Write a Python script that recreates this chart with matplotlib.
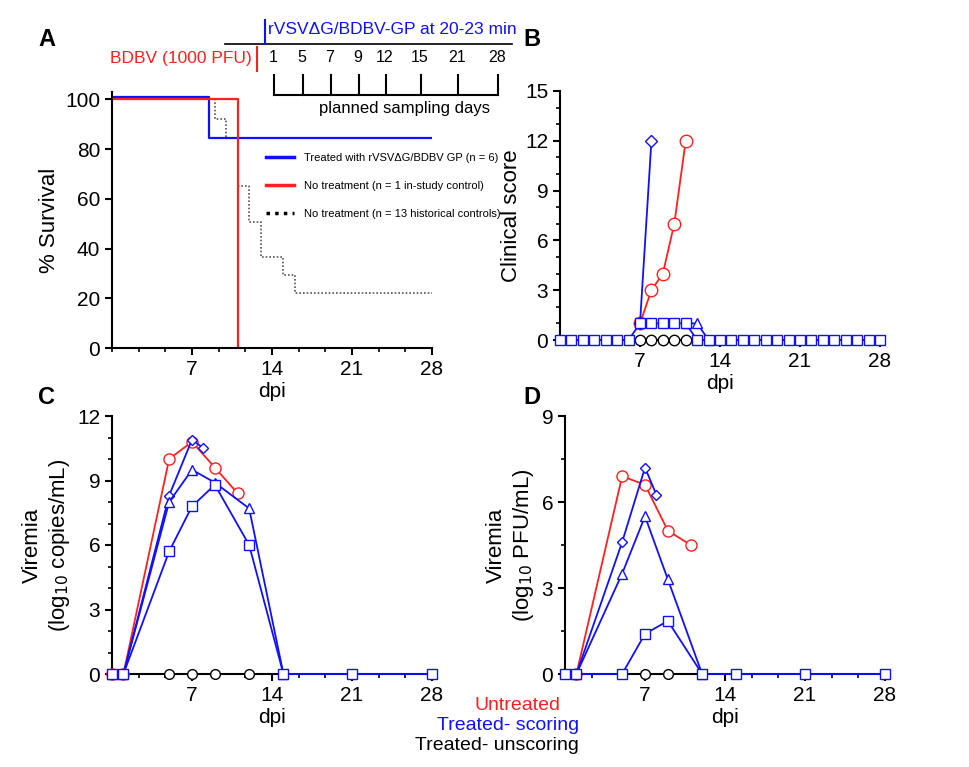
import matplotlib.pyplot as plt
import numpy as np

plt.rcParams["font.family"] = ["Liberation Sans", "DejaVu Sans"]

W, H = 969, 767
RED, BLUE = "#ff2020", "#1010ff"

# ---- panel A: survival
blue_t = [0, 8.5, 28]
blue_s = [101, 84.5, 84.5]
red_t = [0, 11, 11]
red_s = [100, 100, 0]
hist_t = [0, 9, 10, 11, 12, 13, 15, 16, 28]
hist_s = [100, 92.3, 84.6, 65, 50.7, 36.5, 29.3, 22.3, 22.3]
sampling_days = [1, 5, 7, 9, 12, 15, 21, 28]

# ---- panel B: clinical score
b_days = list(range(0, 29))
b_square = [0] * 7 + [1, 1, 1, 1, 1] + [0] * 17
b_tri_d = [11, 12, 13]
b_tri = [1, 1, 0]
b_dia_d = [7, 8]
b_dia = [1, 12]
b_red_d = [7, 8, 9, 10, 11]
b_red = [1, 3, 4, 7, 12]
b_blk_d = [7, 8, 9, 10, 11]
b_blk = [0, 0, 0, 0, 0]

# ---- panel C: viremia copies
c_red_d = [0, 1, 5, 7, 9, 11]
c_red = [0, 0, 10.0, 10.8, 9.6, 8.4]
c_dia_d = [0, 1, 5, 7, 8]
c_dia = [0, 0, 8.3, 10.9, 10.5]
c_tri_d = [0, 1, 5, 7, 9, 12, 15]
c_tri = [0, 0, 8.0, 9.5, 8.9, 7.7, 0]
c_sq_d = [0, 1, 5, 7, 9, 12, 15, 21, 28]
c_sq = [0, 0, 5.7, 7.8, 8.8, 6.0, 0, 0, 0]
c_blk_d = [5, 7, 9, 12]
c_blk = [0, 0, 0, 0]

# ---- panel D: viremia PFU
d_red_d = [1, 5, 7, 9, 11]
d_red = [0, 6.9, 6.6, 5.0, 4.5]
d_dia_d = [1, 5, 7, 8]
d_dia = [0, 4.6, 7.2, 6.25]
d_tri_d = [1, 5, 7, 9, 12]
d_tri = [0, 3.5, 5.5, 3.3, 0]
d_sq_d = [0, 1, 5, 7, 9, 12, 15, 21, 28]
d_sq = [0, 0, 0, 1.4, 1.85, 0, 0, 0, 0]
d_blk_d = [7, 9]
d_blk = [0, 0]

fig = plt.figure(figsize=(W / 100, H / 100), dpi=100)


def make_ax(x0, x1, ytop, ybot):
    ax = fig.add_axes([x0 / W, (H - ybot) / H, (x1 - x0) / W, (ybot - ytop) / H])
    for s in ("top", "right"):
        ax.spines[s].set_visible(False)
    for s in ("left", "bottom"):
        ax.spines[s].set_linewidth(1.5)
    ax.set_xlim(0, 28)
    ax.set_xticks([7, 14, 21, 28])
    ax.set_xticks(np.arange(0, 28.01, 7 / 3), minor=True)
    ax.tick_params(labelsize=15, width=1.5, length=5)
    ax.tick_params(which="minor", width=1.2, length=3)
    ax.set_xlabel("dpi", fontsize=15, labelpad=2)
    return ax


def series(ax, d, v, color, marker, ms=8):
    ax.plot(d, v, color=color, marker=marker, mfc="white", mec=color, ms=ms,
            lw=1.3, clip_on=False, zorder=3)


# A
axA = make_ax(112, 432, 92, 348)
axA.set_ylim(0, 103)
axA.set_yticks([0, 20, 40, 60, 80, 100])
axA.set_ylabel("% Survival", fontsize=16)
axA.step(hist_t, hist_s, where="post", color="#555555", ls=(0, (1, 1.2)), lw=1.2)
axA.step(blue_t, blue_s, where="post", color=BLUE, lw=1.6)
axA.plot(red_t, red_s, color=RED, lw=1.6)
axA.legend(handles=[plt.Line2D([], [], color=BLUE, lw=2.5),
                    plt.Line2D([], [], color=RED, lw=2.5),
                    plt.Line2D([], [], color="black", lw=2.5, ls=(0, (1, 1.5)))],
           labels=["Treated with rVSVΔG/BDBV GP (n = 6)",
                   "No treatment (n = 1 in-study control)",
                   "No treatment (n = 13 historical controls)"],
           loc="upper left", bbox_to_anchor=(0.45, 0.8), frameon=False,
           fontsize=8, handlelength=2.5, labelspacing=1.6, handletextpad=0.9)

# B
axB = make_ax(560, 880, 91, 340)
axB.set_ylim(0, 15)
axB.set_yticks([0, 3, 6, 9, 12, 15])
axB.set_yticks(range(16), minor=True)
axB.set_ylabel("Clinical score", fontsize=16, labelpad=2)
series(axB, b_red_d, b_red, RED, "o", 9)
series(axB, b_dia_d, b_dia, BLUE, "D", 6)
series(axB, b_blk_d, b_blk, "black", "o", 7.5)
series(axB, b_tri_d, b_tri, BLUE, "^", 7.5)
series(axB, b_days, b_square, BLUE, "s", 7)

# C
axC = make_ax(112, 432, 416, 674)
axC.set_ylim(0, 12)
axC.set_yticks([0, 3, 6, 9, 12])
axC.set_yticks(range(13), minor=True)
axC.set_ylabel("Viremia\n(log$_{10}$ copies/mL)", fontsize=16)
series(axC, c_red_d, c_red, RED, "o")
series(axC, c_dia_d, c_dia, BLUE, "D", 5)
series(axC, c_tri_d, c_tri, BLUE, "^", 7)
series(axC, c_blk_d, c_blk, "black", "o", 7)
series(axC, c_sq_d, c_sq, BLUE, "s", 7)

# D
axD = make_ax(565, 885, 416, 674)
axD.set_ylim(0, 9)
axD.set_yticks([0, 3, 6, 9])
axD.set_yticks(np.arange(0, 9.01, 1.5), minor=True)
axD.set_ylabel("Viremia\n(log$_{10}$ PFU/mL)", fontsize=16)
series(axD, d_red_d, d_red, RED, "o")
series(axD, d_dia_d, d_dia, BLUE, "D", 5)
series(axD, d_tri_d, d_tri, BLUE, "^", 7)
series(axD, d_blk_d, d_blk, "black", "o", 7)
series(axD, d_sq_d, d_sq, BLUE, "s", 7)

# overlay in pixel coordinates for annotations
ov = fig.add_axes([0, 0, 1, 1])
ov.set_xlim(0, W)
ov.set_ylim(H, 0)
ov.axis("off")
for lbl, x, y in [("A", 38, 40), ("B", 523, 40), ("C", 38, 398), ("D", 523, 398)]:
    ov.text(x, y, lbl, fontsize=17, fontweight="bold", va="center")

ov.plot([225, 512], [44, 44], color="black", lw=1.2)
ov.plot([265, 265], [20, 44], color=BLUE, lw=1.5)
ov.text(268, 30, "rVSVΔG/BDBV-GP at 20-23 min", color=BLUE, fontsize=12.5, va="center")
ov.plot([257, 257], [47, 71], color=RED, lw=1.5)
ov.text(252, 59, "BDBV (1000 PFU)", color=RED, fontsize=12.5, va="center", ha="right")
tick_x = [274, 303, 331, 359, 386, 421, 458, 498]
for d, x in zip(sampling_days, tick_x):
    ov.text(x - 1, 58, str(d), fontsize=11.5, ha="center", va="center")
    ov.plot([x, x], [75, 95], color="black", lw=1.5)
ov.plot([tick_x[0], tick_x[-1]], [95, 95], color="black", lw=1.5)
ov.text(405, 108, "planned sampling days", fontsize=12, ha="center", va="center")

ov.text(518, 706, "Untreated", color=RED, fontsize=14, ha="center", va="center")
ov.text(508, 726, "Treated- scoring", color=BLUE, fontsize=14, ha="center", va="center")
ov.text(497, 746, "Treated- unscoring", color="black", fontsize=14, ha="center", va="center")

fig.savefig("out.png", dpi=100)
